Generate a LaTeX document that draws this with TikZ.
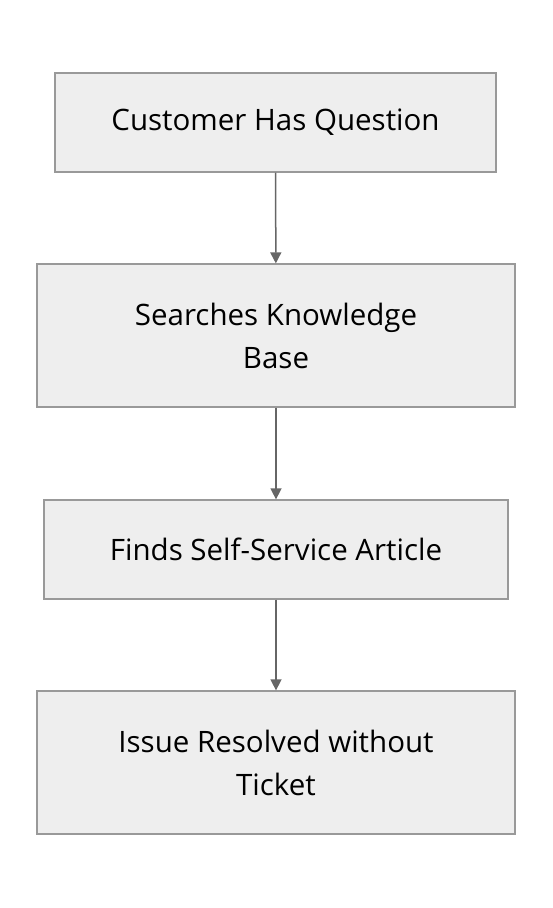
\documentclass[tikz,border=0pt]{standalone}
\usepackage{fontspec}
\setmainfont{Open Sans}
\usetikzlibrary{arrows.meta}
\definecolor{boxfill}{HTML}{EEEEEE}
\definecolor{boxline}{HTML}{999999}
\definecolor{arrowgray}{HTML}{666666}

\begin{document}
\begin{tikzpicture}
  [x=1pt,y=-1pt,every node/.style={shape=rectangle, draw=boxline,
    fill=boxfill, line width=1.3pt, inner sep=0pt, align=center,
    font=\fontsize{29.5}{43}\selectfont}]
  \useasboundingbox (0,0) rectangle (552,908);
  \node[minimum width=441pt, minimum height=99pt] (ask) at (275.5,122.5) {Customer Has Question};
  \node[minimum width=478pt, minimum height=143pt] (search) at (276,335.5) {Searches Knowledge\\Base};
  \node[minimum width=464pt, minimum height=99pt] (article) at (276,549.5) {Finds Self-Service Article};
  \node[minimum width=478pt, minimum height=143pt] (resolved) at (276,762.5) {Issue Resolved without\\Ticket};
  \begin{scope}[line width=1.5pt, draw=arrowgray, -{Triangle[length=11pt,width=11pt]}]
  \foreach \from/\to in {ask/search,search/article,article/resolved}
     \draw (\from) -- (\to);
  \end{scope}
\end{tikzpicture}
\end{document}
